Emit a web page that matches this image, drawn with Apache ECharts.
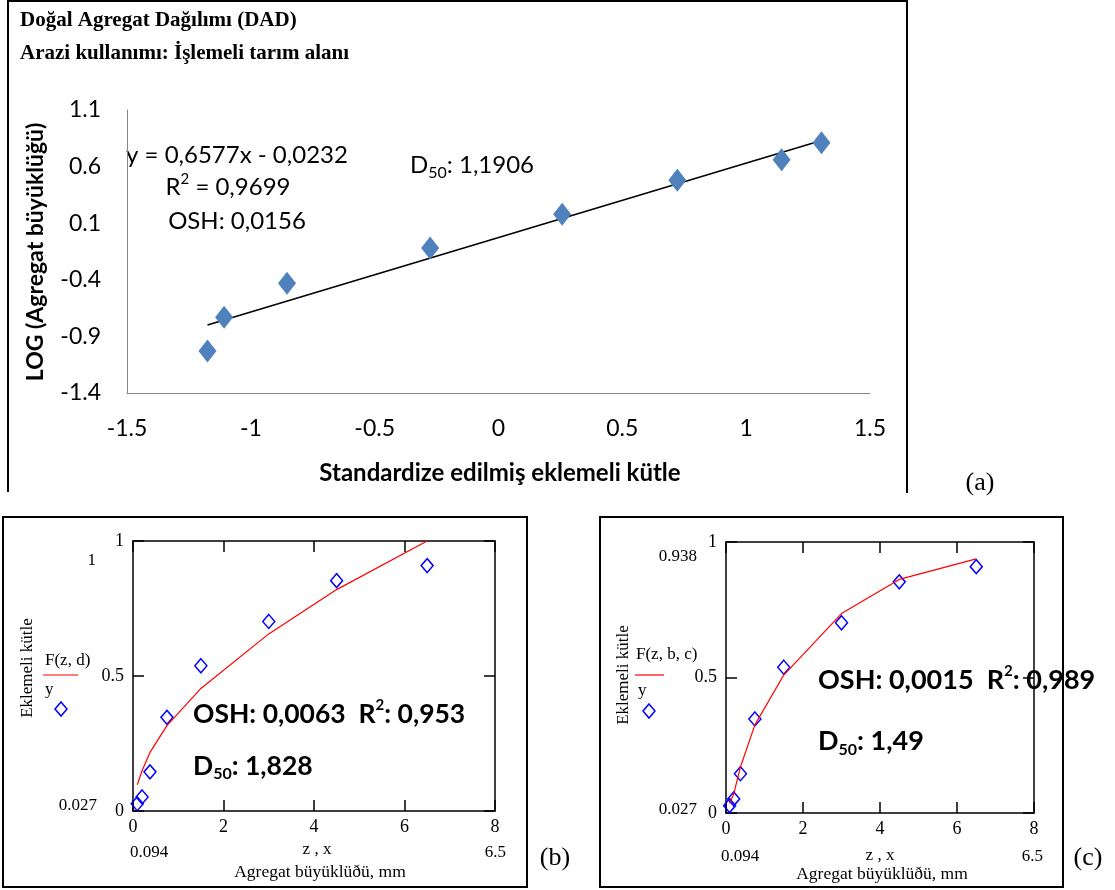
<!DOCTYPE html>
<html><head><meta charset="utf-8">
<script src="https://cdn.jsdelivr.net/npm/echarts@6/dist/echarts.min.js"></script>
<style>html,body{margin:0;padding:0;background:#fff}#c{width:1115px;height:890px}</style>
</head><body><div id="c"></div>
<script>
// ---- Panel (a): standardized cumulative mass vs LOG(aggregate size)
const stdMass = [-1.175, -1.108, -0.854, -0.276, 0.257, 0.722, 1.143, 1.304];
const logSize = [-1.03, -0.73, -0.43, -0.12, 0.18, 0.48, 0.66, 0.81];
const trendX = [-1.175, 1.304];
const trendY = [-0.80, 0.83];
const aXTicks = [-1.5, -1, -0.5, 0, 0.5, 1, 1.5];
const aYTicks = [-1.4, -0.9, -0.4, 0.1, 0.6, 1.1];
// ---- Panels (b), (c): aggregate size (mm) vs cumulative mass
const sizeMm = [0.094, 0.2, 0.375, 0.75, 1.5, 3, 4.5, 6.5];
const massObs = [0.027, 0.052, 0.145, 0.347, 0.538, 0.702, 0.853, 0.909];
const fitB = [0.097, 0.149, 0.217, 0.316, 0.454, 0.656, 0.82, 1.0];
const fitC = [0.035, 0.07, 0.17, 0.325, 0.509, 0.736, 0.862, 0.938];
const bcXTicks = [0, 2, 4, 6, 8];
const bcYTicks = [0, 0.5, 1];

const zip = (a, b) => a.map((v, i) => [v, b[i]]);
const near = (v, arr) => arr.some(t => Math.abs(t - v) < 1e-6);

const SANS = 'Lato';
const SERIF = '"Liberation Serif"';
const chart = echarts.init(document.getElementById('c'), null, {renderer: 'canvas'});

function mcX(grid, pos, labels) {
  return {
    type: 'value', gridIndex: grid, position: pos, min: 0, max: 8, interval: 2,
    axisLine: {show: true, onZero: false, lineStyle: {color: '#000', width: 1.5}},
    axisTick: {show: true, inside: true, length: 11, lineStyle: {color: '#000', width: 1.5}},
    axisLabel: {show: labels, fontFamily: SERIF, fontSize: 18, color: '#000', margin: 7,
      formatter: v => near(v, bcXTicks) ? String(v) : ''},
    splitLine: {show: false}
  };
}
function mcY(grid, pos, labels) {
  return {
    type: 'value', gridIndex: grid, position: pos, min: 0, max: 1, interval: 0.5,
    axisLine: {show: true, onZero: false, lineStyle: {color: '#000', width: 1.5}},
    axisTick: {show: true, inside: true, length: 11, lineStyle: {color: '#000', width: 1.5}},
    axisLabel: {show: labels, fontFamily: SERIF, fontSize: 18, color: '#000', margin: 9,
      formatter: v => near(v, bcYTicks) ? String(v) : ''},
    splitLine: {show: false}
  };
}

function T(x, y, text, font, extra) {
  return {type: 'text', silent: true, style: Object.assign({
    x: x, y: y, text: text, font: font, fill: '#000', align: 'left', verticalAlign: 'middle'
  }, extra || {})};
}
function L(x1, y1, x2, y2, color, w) {
  return {type: 'line', silent: true, shape: {x1, y1, x2, y2}, style: {stroke: color, lineWidth: w}};
}
function D(cx, cy) {
  return {type: 'polygon', silent: true,
    shape: {points: [[cx, cy - 7], [cx + 6, cy], [cx, cy + 7], [cx - 6, cy]]},
    style: {fill: 'none', stroke: '#0000ff', lineWidth: 1.5}};
}
const subRich = (fs, sub) => ({
  a: {fontFamily: SANS, fontSize: fs, fontWeight: 'bold', lineHeight: fs + 6, verticalAlign: 'middle'},
  s: {fontFamily: SANS, fontSize: sub, fontWeight: 'bold', lineHeight: fs + 6, verticalAlign: 'bottom'},
  p: {fontFamily: SANS, fontSize: sub, fontWeight: 'bold', lineHeight: fs + 6, verticalAlign: 'top'}
});

const graphic = [
  // frames
  L(8, 0, 8, 492, '#000', 2), L(8, 1, 907, 1, '#000', 2), L(907, 0, 907, 493, '#000', 2),
  {type: 'rect', silent: true, shape: {x: 3, y: 517, width: 524, height: 370}, style: {fill: 'none', stroke: '#000', lineWidth: 2}},
  {type: 'rect', silent: true, shape: {x: 600, y: 517, width: 463, height: 370}, style: {fill: 'none', stroke: '#000', lineWidth: 2}},
  // panel (a) texts
  T(20, 21, 'Doğal Agregat Dağılımı (DAD)', 'bold 21px ' + SERIF),
  T(20, 54, 'Arazi kullanımı: İşlemeli tarım alanı', 'bold 21px ' + SERIF),
  T(237, 155, 'y = 0,6577x - 0,0232', '24px ' + SANS, {align: 'center'}),
  {type: 'text', silent: true, style: {x: 228, y: 187, align: 'center', verticalAlign: 'middle', fill: '#000',
    text: '{a|R}{p|2}{a| = 0,9699}',
    rich: {a: {fontFamily: SANS, fontSize: 24, lineHeight: 30, verticalAlign: 'middle'},
           p: {fontFamily: SANS, fontSize: 15, lineHeight: 30, verticalAlign: 'top'}}}},
  T(237, 221, 'OSH: 0,0156', '24px ' + SANS, {align: 'center'}),
  {type: 'text', silent: true, style: {x: 410, y: 165, verticalAlign: 'middle', fill: '#000',
    text: '{a|D}{s|50}{a|: 1,1906}',
    rich: {a: {fontFamily: SANS, fontSize: 24, lineHeight: 32, verticalAlign: 'middle'},
           s: {fontFamily: SANS, fontSize: 16, lineHeight: 32, verticalAlign: 'bottom'}}}},
  {type: 'text', silent: true, rotation: Math.PI / 2, x: 36, y: 252,
    style: {x: 0, y: 0, text: 'LOG (Agregat büyüklüğü)', font: 'bold 23px ' + SANS, fill: '#000', align: 'center', verticalAlign: 'middle'}},
  T(500, 473, 'Standardize edilmiş eklemeli kütle', 'bold 24px ' + SANS, {align: 'center'}),
  T(980, 483, '(a)', '26px ' + SERIF, {align: 'center'}),
  // panel (b) texts
  {type: 'text', silent: true, rotation: Math.PI / 2, x: 28, y: 668,
    style: {x: 0, y: 0, text: 'Eklemeli kütle', font: '17px ' + SERIF, fill: '#000', align: 'center', verticalAlign: 'middle'}},
  T(45, 661, 'F(z, d)', '17px ' + SERIF),
  L(43, 675, 78, 675, '#ff0000', 1.2),
  T(45, 690, 'y', '17px ' + SERIF),
  D(61, 709),
  T(96, 561, '1', '17px ' + SERIF, {align: 'right'}),
  T(97, 806, '0.027', '17px ' + SERIF, {align: 'right'}),
  T(130, 853, '0.094', '17px ' + SERIF),
  T(317, 850, 'z , x', '17px ' + SERIF, {align: 'center'}),
  T(506, 853, '6.5', '17px ' + SERIF, {align: 'right'}),
  T(320, 872, 'Agregat büyüklüðü, mm', '17.5px ' + SERIF, {align: 'center'}),
  {type: 'text', silent: true, style: {x: 193, y: 714, verticalAlign: 'middle', fill: '#000',
    text: '{a|OSH: 0,0063  R}{p|2}{a|: 0,953}', rich: subRich(26.5, 15)}},
  {type: 'text', silent: true, style: {x: 193, y: 766, verticalAlign: 'middle', fill: '#000',
    text: '{a|D}{s|50}{a|: 1,828}', rich: subRich(26.5, 16)}},
  T(555, 858, '(b)', '26px ' + SERIF, {align: 'center'}),
  // panel (c) texts
  {type: 'text', silent: true, rotation: Math.PI / 2, x: 624, y: 675,
    style: {x: 0, y: 0, text: 'Eklemeli kütle', font: '17px ' + SERIF, fill: '#000', align: 'center', verticalAlign: 'middle'}},
  T(636, 655, 'F(z, b, c)', '17px ' + SERIF),
  L(635, 675, 664, 675, '#ff0000', 1.2),
  T(638, 691, 'y', '17px ' + SERIF),
  D(649, 711),
  T(697, 557, '0.938', '17px ' + SERIF, {align: 'right'}),
  T(697, 810, '0.027', '17px ' + SERIF, {align: 'right'}),
  T(721, 857, '0.094', '17px ' + SERIF),
  T(880, 856, 'z , x', '17px ' + SERIF, {align: 'center'}),
  T(1043, 857, '6.5', '17px ' + SERIF, {align: 'right'}),
  T(882, 874, 'Agregat büyüklüðü, mm', '17.5px ' + SERIF, {align: 'center'}),
  {type: 'text', silent: true, style: {x: 818, y: 680, verticalAlign: 'middle', fill: '#000',
    text: '{a|OSH: 0,0015  R}{p|2}{a|: 0,989}', rich: subRich(27, 15)}},
  {type: 'text', silent: true, style: {x: 818, y: 741, verticalAlign: 'middle', fill: '#000',
    text: '{a|D}{s|50}{a|: 1,49}', rich: subRich(27, 16)}},
  T(1088, 858, '(c)', '26px ' + SERIF, {align: 'center'})
];

const option = {
  animation: false,
  backgroundColor: '#fff',
  grid: [
    {left: 127, top: 110, width: 743, height: 283},
    {left: 133, top: 541, width: 362, height: 270},
    {left: 726, top: 542, width: 308, height: 271}
  ],
  xAxis: [
    {type: 'value', gridIndex: 0, min: -1.5, max: 1.5, interval: 0.5,
      axisLine: {show: true, onZero: false, lineStyle: {color: '#868686', width: 1}},
      axisTick: {show: false}, splitLine: {show: false},
      axisLabel: {fontFamily: SANS, fontSize: 23, color: '#000', margin: 24,
        formatter: v => near(v, aXTicks) ? String(v) : ''}},
    mcX(1, 'bottom', true), mcX(1, 'top', false),
    mcX(2, 'bottom', true), mcX(2, 'top', false)
  ],
  yAxis: [
    {type: 'value', gridIndex: 0, min: -1.4, max: 1.1, interval: 0.1,
      axisLine: {show: true, onZero: false, lineStyle: {color: '#868686', width: 1}},
      axisTick: {show: false}, splitLine: {show: false},
      axisLabel: {fontFamily: SANS, fontSize: 23, color: '#000', margin: 26,
        formatter: v => near(v, aYTicks) ? v.toFixed(1) : ''}},
    mcY(1, 'left', true), mcY(1, 'right', false),
    mcY(2, 'left', true), mcY(2, 'right', false)
  ],
  series: [
    {type: 'line', xAxisIndex: 0, yAxisIndex: 0, data: zip(trendX, trendY), showSymbol: false,
      lineStyle: {color: '#000', width: 1.6}, z: 2},
    {type: 'scatter', xAxisIndex: 0, yAxisIndex: 0, data: zip(stdMass, logSize),
      symbol: 'diamond', symbolSize: [18, 23], itemStyle: {color: '#4F81BD', opacity: 1}, z: 3},
    {type: 'line', xAxisIndex: 1, yAxisIndex: 1, data: zip(sizeMm, fitB), showSymbol: false,
      lineStyle: {color: '#ff0000', width: 1.2}},
    {type: 'scatter', xAxisIndex: 1, yAxisIndex: 1, data: zip(sizeMm, massObs),
      symbol: 'diamond', symbolSize: [12, 14],
      itemStyle: {color: 'rgba(0,0,0,0)', borderColor: '#0000ff', borderWidth: 1.5, opacity: 1}},
    {type: 'line', xAxisIndex: 3, yAxisIndex: 3, data: zip(sizeMm, fitC), showSymbol: false,
      lineStyle: {color: '#ff0000', width: 1.2}},
    {type: 'scatter', xAxisIndex: 3, yAxisIndex: 3, data: zip(sizeMm, massObs),
      symbol: 'diamond', symbolSize: [12, 14],
      itemStyle: {color: 'rgba(0,0,0,0)', borderColor: '#0000ff', borderWidth: 1.5, opacity: 1}}
  ],
  graphic: graphic
};
chart.setOption(option);
</script></body></html>
